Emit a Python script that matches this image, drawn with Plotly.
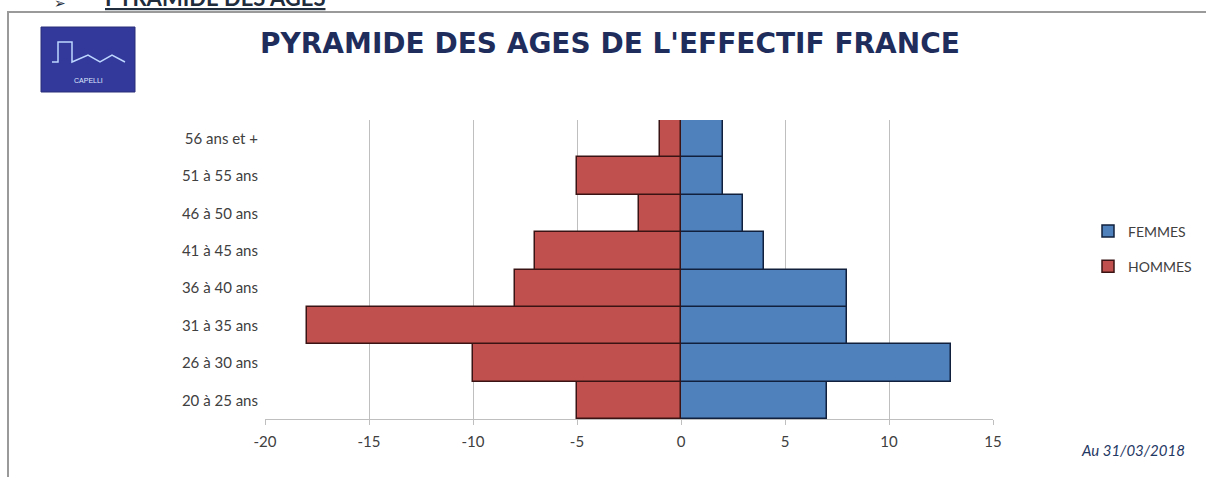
import plotly.graph_objects as go

categories = ["20 à 25 ans", "26 à 30 ans", "31 à 35 ans", "36 à 40 ans",
              "41 à 45 ans", "46 à 50 ans", "51 à 55 ans", "56 ans et +"]
femmes = [7, 13, 8, 8, 4, 3, 2, 2]
hommes = [-5, -10, -18, -8, -7, -2, -5, -1]
tick_vals = [-20, -15, -10, -5, 0, 5, 10, 15]
tick_text = ["-20", "-15", "-10", "-5", "0", "5", "10", "15"]

fig = go.Figure()
fig.add_trace(go.Bar(y=categories, x=femmes, name="FEMMES", orientation="h",
                     legendgroup="f",
                     marker=dict(color="#4F81BD", line=dict(color="#10203d", width=1.5))))
fig.add_trace(go.Bar(y=categories, x=hommes, name="HOMMES", orientation="h",
                     legendgroup="h",
                     marker=dict(color="#C0504D", line=dict(color="#3a1414", width=1.5))))

L, R, T, B = 265, 213, 120, 58
W, H = 1206, 477
pw, ph = W - L - R, H - T - B

def px(x):
    return (x - L) / pw

def py(y):
    return (H - B - y) / ph

fig.update_layout(
    width=W, height=H,
    margin=dict(l=L, r=R, t=T, b=B, autoexpand=False),
    barmode="overlay", bargap=0,
    plot_bgcolor="white", paper_bgcolor="white",
    font=dict(family="Lato, Open Sans, sans-serif", color="#404040", size=14),
    xaxis=dict(range=[-20, 15], tickvals=tick_vals, ticktext=tick_text,
               showgrid=True, gridcolor="#BFBFBF", gridwidth=1, zeroline=False,
               showline=True, linecolor="#BFBFBF", linewidth=1,
               ticks="outside", ticklen=5, tickcolor="#BFBFBF",
               ticklabelstandoff=4,
               tickfont=dict(size=15, color="#404040")),
    yaxis=dict(showgrid=False, zeroline=False, showline=False,
               tickfont=dict(size=15, color="#404040"), ticklabelstandoff=6),
    legend=dict(x=px(1088), y=py(249), xanchor="left", yanchor="middle",
                traceorder="grouped", font=dict(size=14, color="#404040"),
                itemwidth=30, tracegroupgap=14, bgcolor="rgba(0,0,0,0)"),
    showlegend=True,
)

shapes = [
    dict(type="rect", xref="paper", yref="paper",
         x0=px(8), x1=px(1215), y0=py(485), y1=py(12),
         line=dict(color="#9a9a9a", width=2), fillcolor="rgba(0,0,0,0)", layer="below"),
    dict(type="rect", xref="paper", yref="paper",
         x0=px(41), x1=px(135), y0=py(92), y1=py(27),
         line=dict(color="#2a2f7a", width=1), fillcolor="#33399a"),
    dict(type="path", xref="paper", yref="paper",
         path="M {a},{b} L {c},{b} L {c},{d} L {e},{d} L {e},{b} L {f},{g} L {h},{b} L {i},{g} L {j},{b}".format(
             a=px(52), b=py(62), c=px(58), d=py(42), e=px(72), f=px(88), g=py(55),
             h=px(100), i=px(112), j=px(125)),
         line=dict(color="#bcd6ff", width=1.5)),
]
fig.update_layout(shapes=shapes)

annotations = [
    dict(text="<b>PYRAMIDE DES AGES DE L'EFFECTIF FRANCE</b>", xref="paper", yref="paper",
         x=px(610), y=py(44), xanchor="center", yanchor="middle", showarrow=False,
         font=dict(family="DejaVu Sans, sans-serif", size=28, color="#1F2D5C")),
    dict(text="<i>Au 31/03/2018</i>", xref="paper", yref="paper",
         x=px(1187), y=py(450), xanchor="right", yanchor="middle", showarrow=False,
         font=dict(family="Lato, sans-serif", size=15, color="#1F3864")),
    dict(text="CAPELLI", xref="paper", yref="paper",
         x=px(88), y=py(80), xanchor="center", yanchor="middle", showarrow=False,
         font=dict(family="Liberation Sans, sans-serif", size=7, color="#dfe8ff")),
    dict(text="➢", xref="paper", yref="paper",
         x=px(60), y=py(3), xanchor="center", yanchor="middle", showarrow=False,
         font=dict(family="DejaVu Sans, sans-serif", size=14, color="#1F2D3C")),
    dict(text="<b><u>PYRAMIDE DES AGES</u></b>", xref="paper", yref="paper",
         x=px(103), y=py(-3), xanchor="left", yanchor="middle", showarrow=False,
         font=dict(family="Lato, sans-serif", size=22, color="#1F2D3C")),
]
fig.update_layout(annotations=annotations)

fig.write_html("out.html")
